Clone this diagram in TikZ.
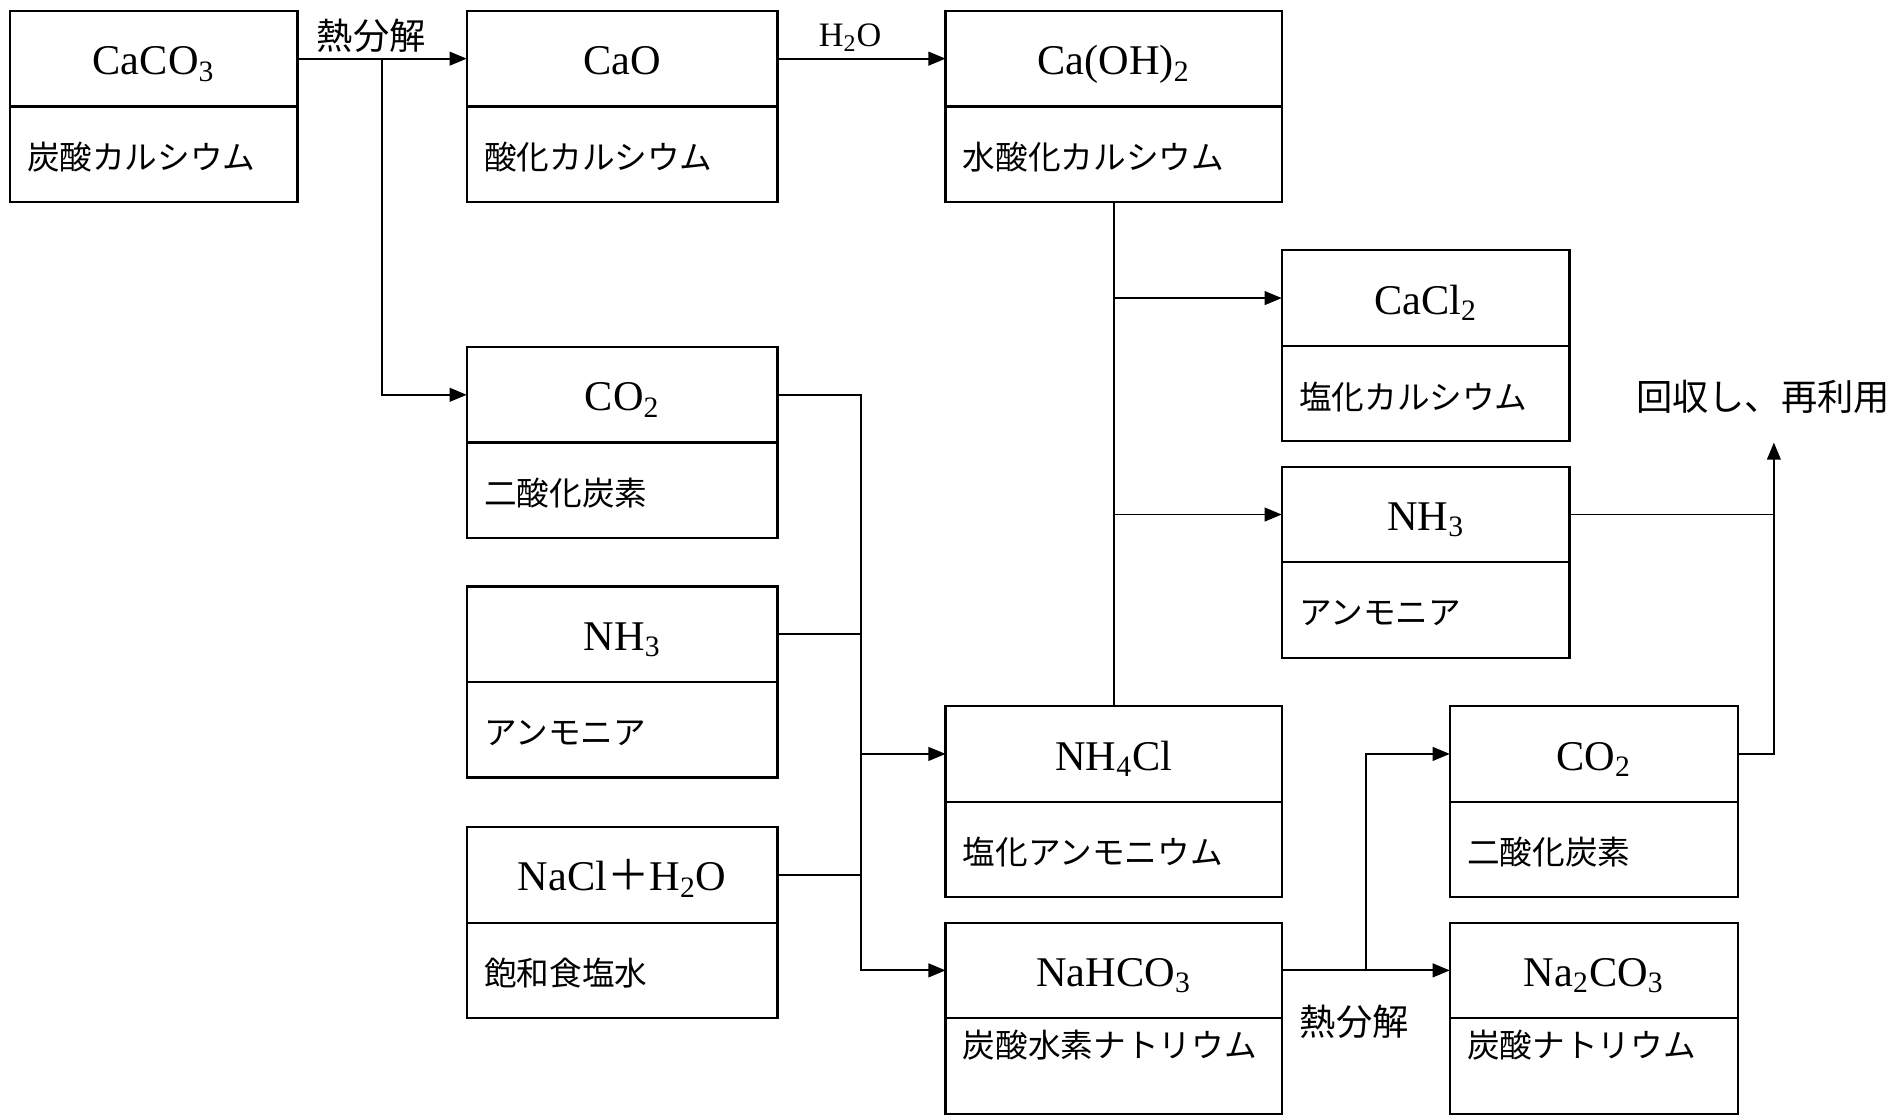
\documentclass[tikz,border=0pt]{standalone}
\usepackage{fontspec}
\setmainfont{Liberation Serif}
\newfontfamily\jp{Noto Sans CJK JP}
\usetikzlibrary{arrows.meta,calc}
\tikzset{
  topbox/.style={draw, line width=1.1pt, minimum height=47.4pt, inner sep=0pt, outer sep=0pt,
    text height=16pt, text depth=0pt, font=\fontsize{21}{24}\selectfont},
  botbox/.style={draw, line width=1.1pt, minimum height=47.4pt, inner sep=0pt, outer sep=0pt},
  lab/.style={font=\jp\fontsize{16.2}{18}\selectfont, inner sep=0pt, anchor=west},
  conn/.style={line width=0.95pt},
  arr/.style={conn, -{Triangle[length=8.5pt,width=6.8pt]}},
  note/.style={font=\jp\fontsize{18}{20}\selectfont, inner sep=0pt},
  formnote/.style={font=\fontsize{17}{20}\selectfont, inner sep=0pt}
}
% name, left x, top y, width, formula, label, label offset below divider
\newcommand\chembox[7]{%
  \node[topbox, minimum width=#4*0.6pt, anchor=north west] (#1) at (#2,#3) {#5};
  \node[botbox, minimum width=#4*0.6pt, anchor=north] (#1b) at (#1.south) {};
  \node[lab] (#1l) at ([xshift=8.4pt, yshift=-#7*0.6pt]#1.south west) {#6};
}
\begin{document}
\begin{tikzpicture}[x=0.6pt,y=-0.6pt]
\fill[white] (0,0) rectangle (1568,922);
\useasboundingbox (0,0) rectangle (1568,922);

\chembox{caco3}{8}{9}{238}{CaCO\textsubscript{3}}{炭酸カルシウム}{42}
\chembox{cao}{386}{9}{257}{CaO}{酸化カルシウム}{42}
\chembox{caoh}{782}{9}{278}{Ca(OH)\textsubscript{2}}{水酸化カルシウム}{42}
\chembox{cacl}{1060}{207}{238}{CaCl\textsubscript{2}}{塩化カルシウム}{42}
\chembox{nhr}{1060}{386}{238}{NH\textsubscript{3}}{アンモニア}{42}
\chembox{coa}{386}{287}{257}{CO\textsubscript{2}}{二酸化炭素}{42}
\chembox{nha}{386}{485}{257}{NH\textsubscript{3}}{アンモニア}{42}
\chembox{nacl}{386}{684}{257}{NaCl{\jp ＋}H\textsubscript{2}O}{飽和食塩水}{42}
\chembox{nhcl}{782}{584}{278}{NH\textsubscript{4}Cl}{塩化アンモニウム}{42}
\chembox{nahco}{782}{763}{278}{NaHCO\textsubscript{3}}{炭酸水素ナトリウム}{22}
\chembox{cob}{1199}{584}{238}{CO\textsubscript{2}}{二酸化炭素}{42}
\chembox{naco}{1199}{763}{238}{Na\textsubscript{2}CO\textsubscript{3}}{炭酸ナトリウム}{22}

% CaCO3 -> CaO, CO2
\draw[arr] (caco3.east) -- (cao.west);
\coordinate (b1) at ($(caco3.east)!0.5!(cao.west)$);
\draw[arr] (b1) |- (coa.west);
\node[note] (heat1) at (307,30) {熱分解};

% CaO -> Ca(OH)2
\draw[arr] (cao.east) -- (caoh.west);
\node[formnote] (water) at (703,31) {H\textsubscript{2}O};

% Ca(OH)2 + NH4Cl -> CaCl2, NH3
\draw[conn] (caohb.south) -- (nhcl.north);
\draw[arr] (caohb.south |- cacl.west) -- (cacl.west);
\draw[arr] (caohb.south |- nhr.west) -- (nhr.west);

% CO2 + NH3 + NaCl -> NH4Cl, NaHCO3
\coordinate (mx) at (712,326);
\draw[arr] (coa.east) -| (mx |- nahco.west) -- (nahco.west);
\draw[conn] (nha.east) -- (mx |- nha.east);
\draw[conn] (nacl.east) -- (mx |- nacl.east);
\draw[arr] (mx |- nhcl.west) -- (nhcl.west);

% NaHCO3 -> Na2CO3, CO2
\draw[arr] (nahco.east) -- (naco.west);
\coordinate (b2) at ($(nahco.east)!0.5!(naco.west)$);
\draw[arr] (b2) |- (cob.west);
\node[note] (heat2) at (1120,845) {熱分解};

% recovery
\coordinate (recin) at (1467,366);
\draw[conn] (nhr.east) -- (recin |- nhr.east);
\draw[arr] (cob.east) -| (recin);
\node[note] (rec) at (1458,328) {回収し、再利用};
\end{tikzpicture}
\end{document}
